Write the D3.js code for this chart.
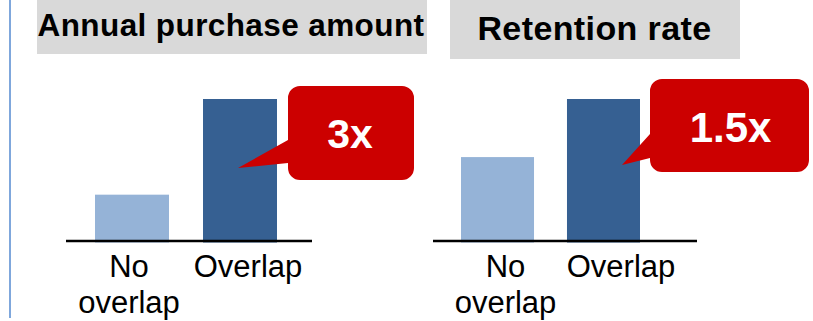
<!DOCTYPE html>
<html>
<head>
<meta charset="utf-8">
<script src="https://cdn.jsdelivr.net/npm/d3@7"></script>
<style>
  html, body { margin: 0; padding: 0; background: #fff; }
  svg { display: block; }
  text { font-family: "Liberation Sans", Arial, sans-serif; }
</style>
</head>
<body>
<svg id="chart" width="813" height="321"></svg>
<script>
// Segment comparison: customers with vs. without overlap
const categories = ["No overlap", "Overlap"];
const purchaseValues = [1, 3];        // annual purchase amount, indexed to "No overlap"
const retentionValues = [1, 1.68];    // retention rate, indexed to "No overlap"
const panelTitles = ["Annual purchase amount", "Retention rate"];
const calloutLabels = ["3x", "1.5x"];

const barColors = ["#95b3d7", "#366092"];
const svg = d3.select("#chart");

// Panel layout
const panels = [
  {
    values: purchaseValues, title: panelTitles[0], callout: calloutLabels[0],
    titleBox: [37, 0, 390, 54], titleX: 231, titleY: 36, titleSize: 31.5, titleSpacing: 0.4,
    axis: [66, 312], bars: [95, 277], pad: 0.315, labels: [129, 248],
    box: { x: 288, y: 86, w: 126, h: 94, tip: [238, 168], w0: 140, w1: 163 },
    cx: 350, cy: 148, cSize: 41
  },
  {
    values: retentionValues, title: panelTitles[1], callout: calloutLabels[1],
    titleBox: [450, 0, 290, 59], titleX: 594.5, titleY: 40, titleSize: 34, titleSpacing: 0.4,
    axis: [433, 697], bars: [461, 640], pad: 0.311, labels: [505.5, 621],
    box: { x: 650, y: 79, w: 159, h: 93, tip: [622, 165], w0: 134, w1: 158 },
    cx: 730.5, cy: 142, cSize: 42
  }
];

const baseY = 242.5, topY = 99, axisY = 241;

// Left rule
svg.append("line")
  .attr("x1", 10).attr("x2", 10).attr("y1", 0).attr("y2", 318)
  .attr("stroke", "#7fa7dc").attr("stroke-width", 2);

panels.forEach(p => {
  const g = svg.append("g");

  // Title band
  g.append("rect")
    .attr("x", p.titleBox[0]).attr("y", p.titleBox[1])
    .attr("width", p.titleBox[2]).attr("height", p.titleBox[3])
    .attr("fill", "#d9d9d9");
  g.append("text")
    .attr("x", p.titleX).attr("y", p.titleY)
    .attr("text-anchor", "middle")
    .attr("font-weight", "bold")
    .attr("font-size", p.titleSize)
    .attr("letter-spacing", p.titleSpacing)
    .attr("fill", "#000")
    .text(p.title);

  const x = d3.scaleBand().domain(categories).range(p.bars)
    .paddingInner(p.pad).paddingOuter(0);
  const y = d3.scaleLinear().domain([0, d3.max(p.values)]).range([baseY, topY]);
  const lx = d3.scalePoint().domain(categories).range(p.labels);

  // Bars
  g.selectAll("rect.bar")
    .data(categories.map((c, i) => ({ c, v: p.values[i], i })))
    .join("rect")
    .attr("class", "bar")
    .attr("x", d => x(d.c))
    .attr("width", x.bandwidth())
    .attr("y", d => y(d.v))
    .attr("height", d => y(0) - y(d.v))
    .attr("fill", d => barColors[d.i]);

  // Category axis line
  g.append("line")
    .attr("x1", p.axis[0]).attr("x2", p.axis[1])
    .attr("y1", axisY).attr("y2", axisY)
    .attr("stroke", "#000").attr("stroke-width", 2.5);

  // Category labels (wrapped on spaces)
  categories.forEach(c => {
    const t = g.append("text")
      .attr("text-anchor", "middle")
      .attr("font-size", 31)
      .attr("fill", "#000");
    c.split(" ").forEach((w, k) => {
      t.append("tspan")
        .attr("x", lx(c))
        .attr("y", 277 + k * 36)
        .text(w);
    });
  });

  // Callout: rounded box with a pointer toward the "Overlap" bar
  const b = p.box, r = 12;
  const path = d3.path();
  path.moveTo(b.x + r, b.y);
  path.lineTo(b.x + b.w - r, b.y);
  path.arcTo(b.x + b.w, b.y, b.x + b.w, b.y + r, r);
  path.lineTo(b.x + b.w, b.y + b.h - r);
  path.arcTo(b.x + b.w, b.y + b.h, b.x + b.w - r, b.y + b.h, r);
  path.lineTo(b.x + r, b.y + b.h);
  path.arcTo(b.x, b.y + b.h, b.x, b.y + b.h - r, r);
  path.lineTo(b.x, b.w1);
  path.lineTo(b.tip[0], b.tip[1]);
  path.lineTo(b.x, b.w0);
  path.lineTo(b.x, b.y + r);
  path.arcTo(b.x, b.y, b.x + r, b.y, r);
  path.closePath();
  g.append("path").attr("d", path.toString()).attr("fill", "#cc0000");

  g.append("text")
    .attr("x", p.cx).attr("y", p.cy)
    .attr("text-anchor", "middle")
    .attr("font-weight", "bold")
    .attr("font-size", p.cSize)
    .attr("fill", "#fff")
    .text(p.callout);
});
</script>
</body>
</html>
